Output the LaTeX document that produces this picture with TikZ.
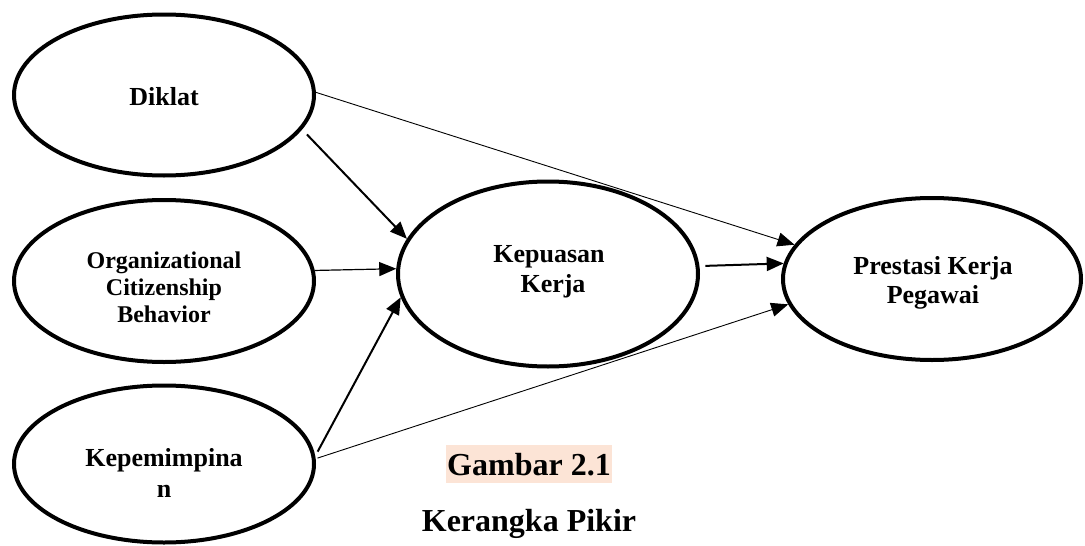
\documentclass[tikz,border=0pt]{standalone}
\usepackage{fontspec}
\setmainfont{Liberation Serif}
\usetikzlibrary{arrows.meta,shapes.geometric}
\definecolor{peach}{HTML}{FCE4D6}
\begin{document}
\begin{tikzpicture}[x=1pt,y=-1pt,
  var/.style={ellipse,draw,line width=4pt,inner sep=0pt,minimum width=300pt},
  lbl/.style={font=\bfseries\fontsize{26}{30}\selectfont,align=center,inner sep=0pt},
  captxt/.style={font=\bfseries\fontsize{32}{38}\selectfont,inner sep=0pt},
  tipstyle/.style={-{Triangle[length=17pt,width=14pt]}},
  thickarr/.style={tipstyle,line width=2pt},
  midarr/.style={tipstyle,line width=1.2pt},
  thinarr/.style={tipstyle,line width=0.9pt}
]
\useasboundingbox (0,0) rectangle (1085,546);

\node[var,minimum height=161pt] (dik) at (164,95) {};
\node[var,minimum height=162pt] (ocb) at (164,281) {};
\node[var,minimum height=157pt] (lead) at (164,464) {};
\node[var,minimum height=185pt] (kep) at (548,274) {};
\node[var,minimum height=162pt,minimum width=298pt] (pre) at (932,279) {};

\node[lbl,anchor=base] (tdik) at (164,105) {Diklat};
\node[lbl,font=\bfseries\fontsize{24}{27}\selectfont] (tocb) at (164,287) {Organizational\\Citizenship\\Behavior};
\node[lbl,font=\bfseries\fontsize{26}{31}\selectfont] (tlead) at (164,473) {Kepemimpina\\n};
\node[lbl] (tkep) at (549,272) {Kepuasan\\\hspace*{8pt}Kerja};
\node[lbl,font=\bfseries\fontsize{26}{29}\selectfont] (tpre) at (933,282.5) {Prestasi Kerja\\Pegawai};

\node[captxt,anchor=base,fill=peach,inner xsep=1.5pt,text height=30pt,text depth=8pt] (gam) at (529,475) {Gambar 2.1};
\node[captxt,anchor=base] (ker) at (529,531) {Kerangka Pikir};

\draw[thickarr,shorten <=7pt] (dik.-14.4) -- (kep.166);
\draw[thinarr] (dik.1) -- (pre.166);
\draw[midarr] (ocb.4.2) -- (kep.178.5);
\draw[thickarr,shorten <=5pt] (lead.3) -- (kep.-171);
\draw[thinarr,shorten <=2pt] (lead.2) -- (pre.-170);
\draw[thickarr,shorten <=6pt] (kep.3.5) -- (pre.174.6);
\end{tikzpicture}
\end{document}
